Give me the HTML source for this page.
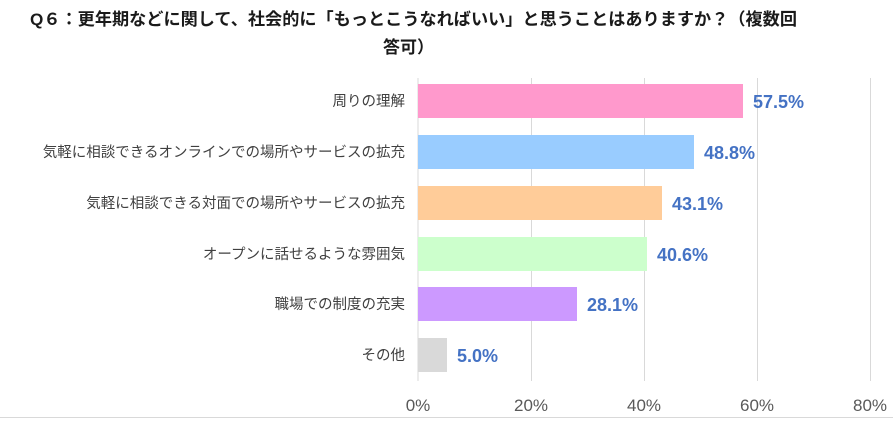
<!DOCTYPE html>
<html><head><meta charset="utf-8"><style>
body{margin:0;background:#fff;}
</style></head><body>
<svg width="893" height="421" xmlns="http://www.w3.org/2000/svg" style="display:block">
<rect width="893" height="421" fill="#fff"/>
<g font-family="Liberation Sans, Noto Sans CJK JP, sans-serif" font-weight="bold" font-size="17" fill="#1a1a1a">
<text x="30" y="25" textLength="767" lengthAdjust="spacingAndGlyphs">Q６：更年期などに関して、社会的に「もっとこうなればいい」と思うことはありますか？（複数回</text>
<text x="383" y="53">答可）</text>
</g>
<g stroke="#d9d9d9" stroke-width="1">
<line x1="418" y1="78" x2="418" y2="381"/>
<line x1="531.5" y1="78" x2="531.5" y2="381"/>
<line x1="644.5" y1="78" x2="644.5" y2="381"/>
<line x1="757.5" y1="78" x2="757.5" y2="381"/>
<line x1="870.5" y1="78" x2="870.5" y2="381"/>
<line x1="0" y1="417.5" x2="893" y2="417.5"/>
</g>
<g>
<rect x="418" y="84" width="325" height="34" fill="#FF99CC"/>
<rect x="418" y="135" width="276" height="34" fill="#99CCFF"/>
<rect x="418" y="186" width="244" height="34" fill="#FFCC99"/>
<rect x="418" y="237" width="229" height="34" fill="#CCFFCC"/>
<rect x="418" y="287" width="159" height="34" fill="#CC99FF"/>
<rect x="418" y="338" width="29" height="34" fill="#D9D9D9"/>
</g>
<g font-family="Liberation Sans, Noto Sans CJK JP, sans-serif" font-size="14.5" fill="#404040" text-anchor="end">
<text x="405" y="106">周りの理解</text>
<text x="405" y="157">気軽に相談できるオンラインでの場所やサービスの拡充</text>
<text x="405" y="208">気軽に相談できる対面での場所やサービスの拡充</text>
<text x="405" y="259">オープンに話せるような雰囲気</text>
<text x="405" y="309">職場での制度の充実</text>
<text x="405" y="360">その他</text>
</g>
<g font-family="Liberation Sans, sans-serif" font-size="18" font-weight="bold" fill="#4472C4">
<text x="753" y="108">57.5%</text>
<text x="704" y="159">48.8%</text>
<text x="672" y="210">43.1%</text>
<text x="657" y="261">40.6%</text>
<text x="587" y="311">28.1%</text>
<text x="457" y="362">5.0%</text>
</g>
<g font-family="Liberation Sans, sans-serif" font-size="17" fill="#595959" text-anchor="middle">
<text x="418" y="411">0%</text>
<text x="531" y="411">20%</text>
<text x="644" y="411">40%</text>
<text x="757" y="411">60%</text>
<text x="870" y="411">80%</text>
</g>
</svg>
</body></html>
